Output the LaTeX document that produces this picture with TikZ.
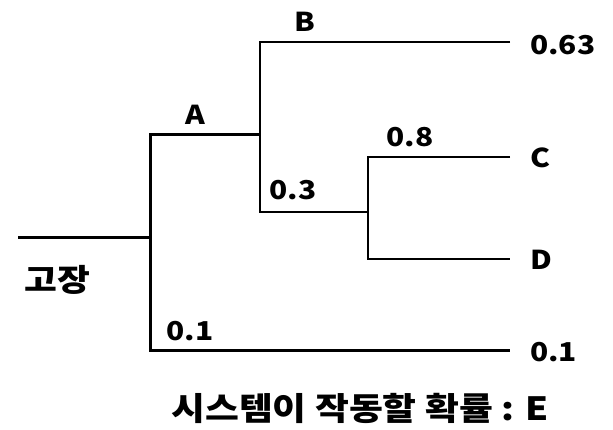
\documentclass[tikz,border=0pt]{standalone}
\usepackage{fontspec}
\setmainfont{Noto Sans CJK KR}[FakeStretch=1.15]
\begin{document}
\begin{tikzpicture}[x=1pt,y=-1pt,
  thickline/.style={line width=3pt, line join=miter},
  thinline/.style={line width=1.8pt, line join=miter},
  lbl/.style={inner sep=0pt, font=\fontsize{26}{30}\selectfont\bfseries},
  krlbl/.style={inner sep=0pt, font=\fontsize{31}{34}\selectfont\bfseries}]
\useasboundingbox (0,0) rectangle (613,429);
\fill[white] (0,0) rectangle (613,429);
% junctions
\coordinate (root) at (18,237);
\coordinate (j1) at (150,237);
\coordinate (j1t) at (150,134);
\coordinate (j1b) at (150,350);
\coordinate (j2) at (260,134);
\coordinate (j2t) at (260,42);
\coordinate (j2b) at (260,212);
\coordinate (j3) at (368,212);
\coordinate (j3t) at (368,157);
\coordinate (j3b) at (368,259);
\coordinate (eB) at (510,42);
\coordinate (eC) at (510,157);
\coordinate (eD) at (510,259);
\coordinate (eE) at (510,350);
% lines
\draw[thickline] (root) -- (j1);
\draw[thickline] (j2) -- (j1t) -- (j1b) -- (eE);
\draw[thinline] (eB) -- (j2t) -- (j2b) -- (j3);
\draw[thinline] (eC) -- (j3t) -- (j3b) -- (eD);
% labels
\node[lbl] (lB) at (305,22) {B};
\node[lbl] (lA) at (195,115) {A};
\node[lbl, anchor=west] (l063) at (530,45) {0.63};
\node[lbl] (l08) at (410,137) {0.8};
\node[lbl, anchor=west] (lC) at (530,158) {C};
\node[lbl] (l03) at (293,190) {0.3};
\node[lbl, anchor=west] (lD) at (530,260) {D};
\node[krlbl] (lfail) at (57,280) {고장};
\node[lbl] (l01a) at (190,331) {0.1};
\node[lbl, anchor=west] (l01b) at (530,352) {0.1};
\node[krlbl, font=\fontsize{32}{36}\selectfont\bfseries] (lsys) at (360,408) {시스템이 작동할 확률 : E};
\end{tikzpicture}
\end{document}
